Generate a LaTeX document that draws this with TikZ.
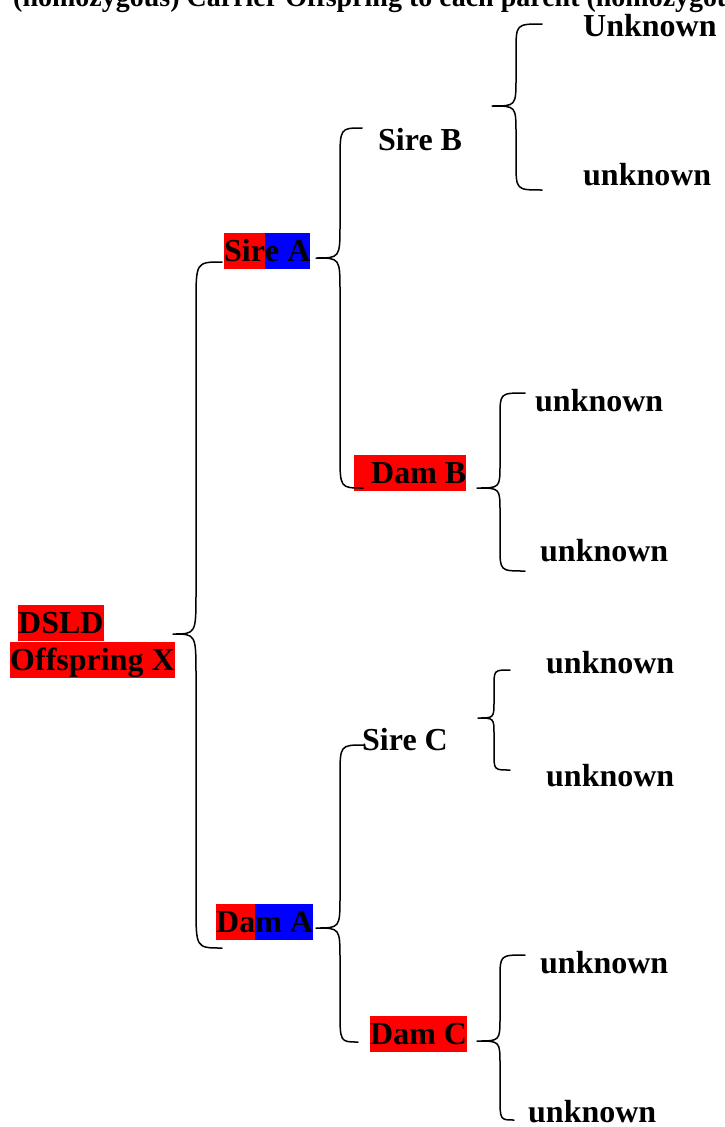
\documentclass[tikz,border=0pt]{standalone}
\usepackage{fontspec}
\setmainfont{Liberation Serif}
\tikzset{
  lbl/.style={anchor=base west, inner sep=0pt, font=\bfseries\fontsize{32}{37}\selectfont},
  ttl/.style={anchor=base west, inner sep=0pt, font=\bfseries\fontsize{28}{32}\selectfont},
  brace/.style={draw=black, line width=1.5pt, line cap=round, line join=round},
}
\newcommand\hlbox[2]{{\setlength{\fboxsep}{0pt}\colorbox{#1}{\rule[-7pt]{0pt}{35.5pt}#2}}}
% tipx tipy endx1 y1 endx2 y2 spine r
\newcommand\cbrace[8]{%
  \draw[brace] (#3,#4) .. controls (#7,#4) .. (#7,{#4+#8}) -- (#7,{#2-#8})
    .. controls (#7,#2) .. (#1,#2) .. controls (#7,#2) .. (#7,{#2+#8})
    -- (#7,{#6-#8}) .. controls (#7,#6) .. (#5,#6);}
\begin{document}
\begin{tikzpicture}[x=1pt,y=-1pt]
\useasboundingbox (0,0) rectangle (724,1127);
\clip (0,0) rectangle (724,1127);
\fill[white] (0,0) rectangle (724,1127);
% clipped title line
\node[ttl] (title) at (13,6) {(homozygous) Carrier Offspring to each parent (homozygous)};
% generation 0
\node[lbl] (x1) at (18,633.5) {\hlbox{red}{DSLD}};
\node[lbl] (x2) at (10,670.5) {\hlbox{red}{Offspring X}};
% generation 1
\node[lbl] (sireA) at (224,261.5) {\hlbox{red}{Sir}\hlbox{blue}{e A}};
\node[lbl] (damA) at (216,932.5) {\hlbox{red}{Da}\hlbox{blue}{m A}};
% generation 2
\node[lbl] (sireB) at (378,150) {Sire B};
\node[lbl] (damB) at (354,483.5) {\hlbox{red}{\hspace{17pt}Dam B}};
\node[lbl] (sireC) at (362,750) {Sire C};
\node[lbl] (damC) at (370,1044.5) {\hlbox{red}{Dam C}};
% generation 3
\node[lbl] (u1) at (583,36) {Unknown};
\node[lbl] (u2) at (583,185) {unknown};
\node[lbl] (u3) at (535,411) {unknown};
\node[lbl] (u4) at (540,561) {unknown};
\node[lbl] (u5) at (546,673) {unknown};
\node[lbl] (u6) at (546,786) {unknown};
\node[lbl] (u7) at (540,973) {unknown};
\node[lbl] (u8) at (528,1122) {unknown};
% braces
\cbrace{173}{634}{222}{262}{222}{948}{196}{42}
\cbrace{316}{258}{362}{128}{363}{488}{340}{34}
\cbrace{492}{106}{542}{24}{542}{190}{516}{28}
\cbrace{477}{488}{525}{393}{525}{571}{500}{24}
\cbrace{316}{928}{364}{745}{358}{1042}{340}{32}
\cbrace{478}{718}{510}{670}{510}{770}{494}{17}
\cbrace{477}{1041}{525}{955}{514}{1120}{500}{24}
\end{tikzpicture}
\end{document}
